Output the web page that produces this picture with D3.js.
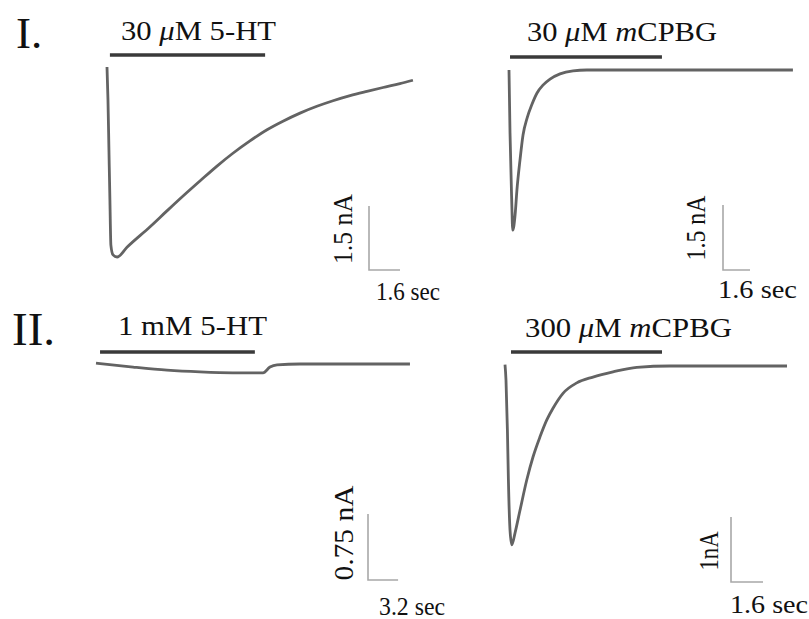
<!DOCTYPE html>
<html>
<head>
<meta charset="utf-8">
<script src="https://cdn.jsdelivr.net/npm/d3@7"></script>
<style>
  body { margin: 0; background: #fff; }
  svg text { font-family: "Liberation Serif", "Times New Roman", serif; fill: #111; }
</style>
</head>
<body>
<svg id="fig" width="809" height="619"></svg>
<script>
// Current traces, time in sec, current in nA (inward = negative)
var tHT30 = [0, 0.05, 0.1, 0.15, 0.2, 0.31, 0.52, 1.03, 2.22, 3.09, 4.12, 4.79, 5.67, 6.49, 7.37, 8.25, 9.07, 9.95, 10.82, 11.65, 12.53, 13.4, 14.23, 15.1, 15.77];
var iHT30 = [0, -0.77, -1.94, -3.11, -4.17, -4.4, -4.45, -4.22, -3.74, -3.37, -2.94, -2.67, -2.32, -2.02, -1.73, -1.47, -1.27, -1.08, -0.92, -0.79, -0.67, -0.57, -0.48, -0.39, -0.31];

var tCP30 = [0, 0.06, 0.16, 0.22, 0.36, 0.47, 0.65, 0.83, 1.07, 1.36, 1.66, 2.01, 2.43, 3.02, 3.79, 4.6, 16.8];
var iCP30 = [0, -1.45, -3.0, -3.7, -3.35, -2.77, -2.08, -1.5, -1.11, -0.79, -0.53, -0.35, -0.21, -0.09, -0.02, 0, 0];

var tHT1000 = [0, 3.94, 7.55, 11.06, 14.57, 17.77, 18.51, 19.26, 21.7, 33.4];
var iHT1000 = [0.01, -0.035, -0.07, -0.09, -0.1, -0.1, -0.035, -0.01, 0, 0];

var tCP300 = [0, 0.05, 0.12, 0.17, 0.25, 0.34, 0.5, 0.75, 1.09, 1.4, 1.75, 2.09, 2.4, 2.9, 3.59, 4.4, 5.4, 6.59, 8.25, 14.1];
var iCP300 = [0.02, -0.22, -0.98, -1.75, -2.52, -2.75, -2.57, -2.22, -1.75, -1.4, -1.09, -0.83, -0.65, -0.42, -0.26, -0.17, -0.09, -0.02, 0, 0];

// drug application windows (sec)
var drugStart = [0.15, 0.06, 0.43, 0.3];
var drugEnd = [8.15, 9.05, 16.9, 7.85];
var drugName = [["30 ", "\u03bc", "M 5-HT"], ["30 ", "\u03bc", "M ", "m", "CPBG"], ["1 mM 5-HT"], ["300 ", "\u03bc", "M ", "m", "CPBG"]];

// scale bars
var barSec = [1.6, 1.6, 3.2, 1.6];
var barNA = [1.5, 1.5, 0.75, 1];
var barSecLabel = ["1.6 sec", "1.6 sec", "3.2 sec", "1.6 sec"];
var barNALabel = ["1.5 nA", "1.5 nA", "0.75 nA", "1nA"];

var rowLabels = ["I.", "II."];

var svg = d3.select("#fig");

// where each trace sits on the page
var layout = [
  { x0: 107, y0: 67, pps: 19.4, ppn: 42.7,
    lx: 121, ly: 40, lw: 155, by: 55,
    cx: 369, cy: 270, nx: 352, ny: 229, nw: 70, sx: 376, sy: 300, sw: 64 },
  { x0: 509, y0: 70, pps: 16.9, ppn: 43.3,
    lx: 527, ly: 41, lw: 190, by: 57,
    cx: 723, cy: 270, nx: 705, ny: 228, nw: 65, sx: 718, sy: 298, sw: 79 },
  { x0: 96, y0: 364, pps: 9.4, ppn: 88,
    lx: 118, ly: 335, lw: 149, by: 352,
    cx: 368, cy: 580, nx: 353, ny: 533, nw: 95, sx: 379, sy: 615, sw: 66 },
  { x0: 505, y0: 366, pps: 20, ppn: 65,
    lx: 525, ly: 337, lw: 207, by: 352,
    cx: 731, cy: 582, nx: 718, ny: 551, nw: 39, sx: 730, sy: 613, sw: 78 }
];

var traces = [
  { t: tHT30, i: iHT30 },
  { t: tCP30, i: iCP30 },
  { t: tHT1000, i: iHT1000 },
  { t: tCP300, i: iCP300 }
];

traces.forEach(function(tr, k) {
  var L = layout[k];
  var tMax = d3.max(tr.t);

  var x = d3.scaleLinear().domain([0, tMax]).range([L.x0, L.x0 + tMax * L.pps]);
  var y = d3.scaleLinear().domain([0, -1]).range([L.y0, L.y0 + L.ppn]);

  var g = svg.append("g").attr("class", "panel");

  // drug label
  var lab = g.append("text")
      .attr("x", L.lx)
      .attr("y", L.ly)
      .attr("font-size", 28)
      .attr("textLength", L.lw)
      .attr("lengthAdjust", "spacingAndGlyphs");
  drugName[k].forEach(function(s) {
    lab.append("tspan")
      .attr("font-style", (s === "\u03bc" || s === "m") ? "italic" : null)
      .text(s);
  });

  // application bar
  g.append("line")
      .attr("x1", x(drugStart[k]))
      .attr("x2", x(drugEnd[k]))
      .attr("y1", L.by)
      .attr("y2", L.by)
      .attr("stroke", "#3a3a3a")
      .attr("stroke-width", 3.5);

  // the trace
  var pts = tr.t.map(function(d, j) { return [d, tr.i[j]]; });
  var line = d3.line()
      .x(function(d) { return x(d[0]); })
      .y(function(d) { return y(d[1]); })
      .curve(d3.curveMonotoneX);

  g.append("path")
      .datum(pts)
      .attr("d", line)
      .attr("fill", "none")
      .attr("stroke", "#636363")
      .attr("stroke-width", 2.8)
      .attr("stroke-linejoin", "round");

  // scale bar (L shape)
  var hLen = x(barSec[k]) - x(0);
  var vLen = y(-barNA[k]) - y(0);
  g.append("path")
      .attr("d", "M" + L.cx + "," + (L.cy - vLen) + "V" + L.cy + "H" + (L.cx + hLen))
      .attr("fill", "none")
      .attr("stroke", "#a8a8a8")
      .attr("stroke-width", 1.6);

  g.append("text")
      .attr("transform", "translate(" + L.nx + "," + L.ny + ") rotate(-90)")
      .attr("text-anchor", "middle")
      .attr("font-size", 27)
      .attr("textLength", L.nw)
      .attr("lengthAdjust", "spacingAndGlyphs")
      .text(barNALabel[k]);

  g.append("text")
      .attr("x", L.sx)
      .attr("y", L.sy)
      .attr("font-size", 25)
      .attr("textLength", L.sw)
      .attr("lengthAdjust", "spacingAndGlyphs")
      .text(barSecLabel[k]);
});

// row numerals
svg.append("text")
    .attr("x", 16).attr("y", 48)
    .attr("font-size", 45)
    .attr("fill", "#2a2a2a")
    .text(rowLabels[0]);
svg.append("text")
    .attr("x", 12).attr("y", 345)
    .attr("font-size", 47)
    .attr("fill", "#2a2a2a")
    .text(rowLabels[1]);
</script>
</body>
</html>
